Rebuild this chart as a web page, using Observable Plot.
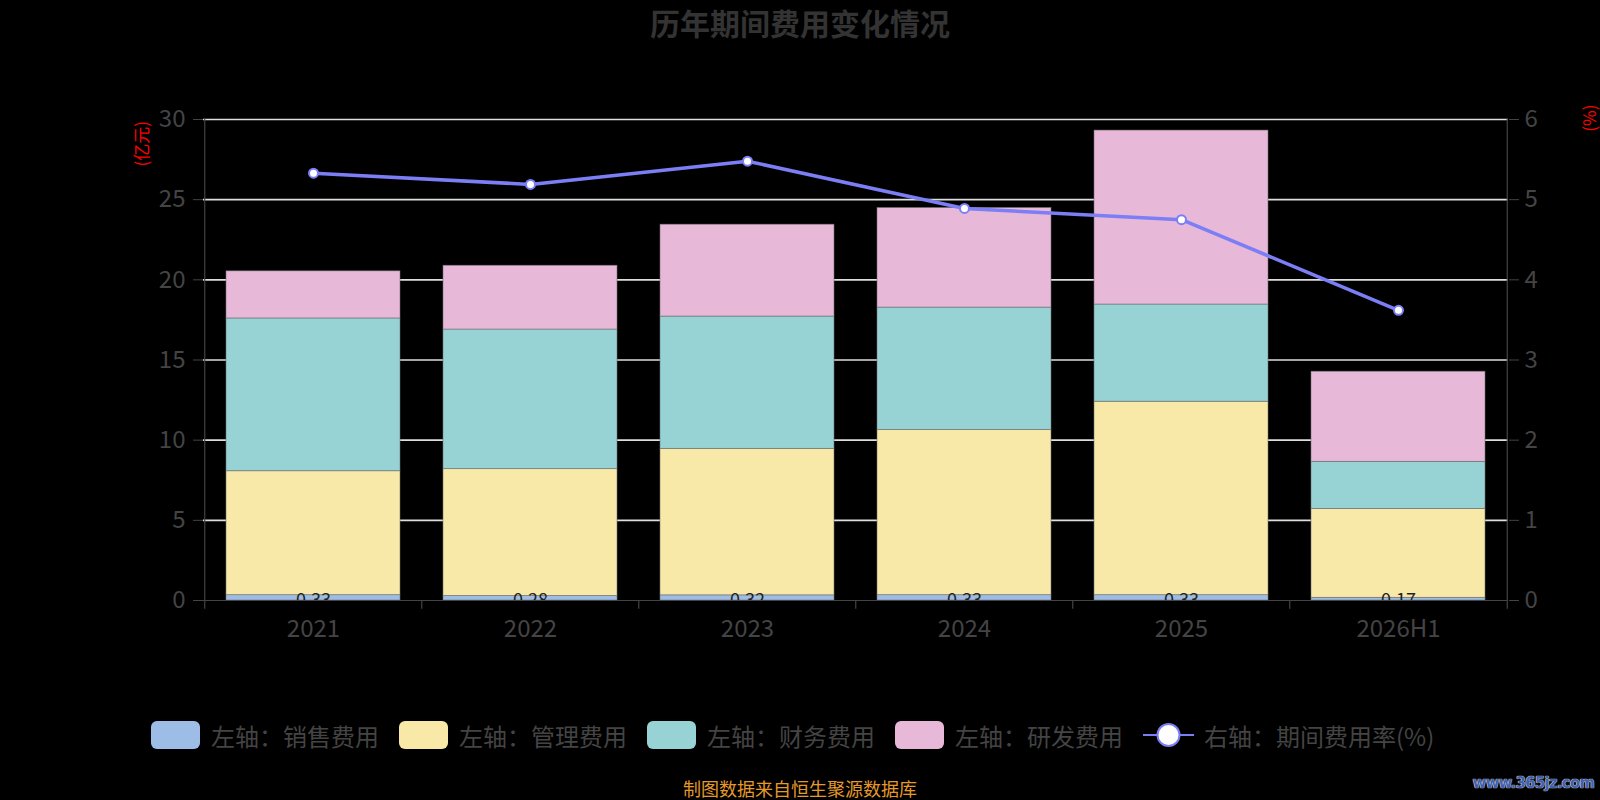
<!DOCTYPE html>
<html>
<head>
<meta charset="utf-8">
<script src="https://cdn.jsdelivr.net/npm/d3@7"></script>
<script src="https://cdn.jsdelivr.net/npm/@observablehq/plot@0.6"></script>
<style>
  html, body { margin: 0; padding: 0; background: #000; }
  #wrap { position: relative; width: 1600px; height: 800px; background: #000; overflow: hidden; font-family: "Noto Sans CJK SC", "Noto Sans", sans-serif; }
  #title { height: 50px; line-height: 44px; text-align: center; color: #333; font-weight: bold; font-size: 30px; }
  #chart { height: 650px; }
  .leg { position: absolute; top: 721px; height: 28px; display: flex; align-items: center; color: #444; font-size: 24px; white-space: nowrap; }
  .sw { width: 49px; height: 28px; border-radius: 6px; margin-right: 11px; }
  #caption { position: absolute; left: 0; width: 1600px; top: 776px; text-align: center; color: #e39a2b; font-size: 18px; line-height: 24px; }
  #wm { position: absolute; right: 6px; top: 774px; color: #3e62b0; font-size: 15px; font-weight: bold; font-family: "DejaVu Sans", sans-serif; text-shadow: 0 0 1px #fff, 0 0 1px #fff; letter-spacing: -0.8px; }
</style>
</head>
<body>
<div id="wrap">
  <div id="title"></div>
  <div id="chart"></div>
  <div id="legend"></div>
  <div id="caption"></div>
  <div id="wm">www.365jz.com</div>
</div>
<script>
// ---- data ----
const titleText = "历年期间费用变化情况";
const captionText = "制图数据来自恒生聚源数据库";
const years = ["2021", "2022", "2023", "2024", "2025", "2026H1"];
const seriesNames = ["销售费用", "管理费用", "财务费用", "研发费用"];
const sales = [0.33, 0.28, 0.32, 0.33, 0.33, 0.17];
const admin = [7.73, 7.91, 9.14, 10.30, 12.07, 5.54];
const finance = [9.53, 8.71, 8.25, 7.64, 6.06, 2.94];
const rd = [2.94, 3.98, 5.73, 6.21, 10.85, 5.62];
const rate = [5.33, 5.19, 5.48, 4.89, 4.75, 3.62];
const salesLabels = ["0.33", "0.28", "0.32", "0.33", "0.33", "0.17"];
const leftTicks = [0, 5, 10, 15, 20, 25, 30];
const rightTicks = [0, 1, 2, 3, 4, 5, 6];
const leftUnit = "(亿元)";
const rightUnit = "(%)";
const legendLabels = ["左轴：销售费用", "左轴：管理费用", "左轴：财务费用", "左轴：研发费用", "右轴：期间费用率(%)"];

const colors = ["#9dbde6", "#f9e9a9", "#97d3d4", "#e8b8d8"];
const lineColor = "#7b7ef5";
const rightFactor = 30 / 6;

const seriesValues = [sales, admin, finance, rd];
const stacked = [];
years.forEach((y, i) => {
  seriesNames.forEach((s, k) => stacked.push({ year: y, series: s, value: seriesValues[k][i] }));
});
const rateData = years.map((y, i) => ({ year: y, rate: rate[i] }));
const salesData = years.map((y, i) => ({ year: y, v: sales[i], label: salesLabels[i] }));

const W = 1600, H = 650;
const mL = 203, mR = 92, mT = 69, mB = 100;
const step = (W - mL - mR) / years.length;
const axisColor = "#444";
const tickFont = "'Liberation Sans Narrow', 'Noto Sans CJK SC', sans-serif";

document.getElementById("title").textContent = titleText;
document.getElementById("caption").textContent = captionText;

const chart = Plot.plot({
  width: W,
  height: H,
  marginLeft: mL,
  marginRight: mR,
  marginTop: mT,
  marginBottom: mB,
  style: { background: "#000", fontFamily: tickFont, overflow: "visible" },
  x: { domain: years, paddingInner: 0.2, paddingOuter: 0.1, label: null },
  y: { domain: [0, 30], label: null },
  color: { domain: seriesNames, range: colors },
  marks: [
    Plot.ruleY(leftTicks.filter(d => d > 0), { stroke: "#dedede", strokeWidth: 1.6 }),
    Plot.barY(stacked, { x: "year", y: "value", fill: "series", stroke: "#6f6f6f", strokeWidth: 0.7, strokeOpacity: 0.8 }),
    Plot.text(salesData, { x: "year", y: 0, text: "label", clip: true, fill: "#222", fontSize: 18, lineAnchor: "middle", fontFamily: tickFont }),
    Plot.ruleY([0], { stroke: axisColor, strokeWidth: 1.2 }),
    Plot.ruleX([years[0]], { dx: -step / 2, y1: -0.55, y2: 30, stroke: axisColor, strokeWidth: 1.2 }),
    Plot.ruleX([years[years.length - 1]], { dx: step / 2, y1: -0.55, y2: 30, stroke: axisColor, strokeWidth: 1.2 }),
    Plot.ruleX(years.slice(1), { dx: -step / 2, y1: -0.55, y2: 0, stroke: axisColor, strokeWidth: 1.2 }),
    Plot.axisY({ anchor: "left", ticks: leftTicks, tickSize: 10, tickPadding: 8, stroke: axisColor, fill: "#444", fontSize: 24, label: null }),
    Plot.axisY({ anchor: "right", ticks: rightTicks.map(d => d * rightFactor), tickFormat: d => String(d / rightFactor), tickSize: 10, tickPadding: 6, stroke: axisColor, fill: "#444", fontSize: 24, label: null }),
    Plot.axisX({ tickSize: 0, tickPadding: 19, fill: "#444", fontSize: 24, label: null }),
    Plot.line(rateData, { x: "year", y: d => d.rate * rightFactor, stroke: lineColor, strokeWidth: 3.5 }),
    Plot.dot(rateData, { x: "year", y: d => d.rate * rightFactor, r: 4.5, fill: "#fff", stroke: lineColor, strokeWidth: 2 }),
    Plot.text([leftUnit], { frameAnchor: "top-left", dx: -68, dy: 47, rotate: -90, fill: "#ff0000", fontSize: 17, fontFamily: "'Noto Sans CJK SC', sans-serif" }),
    Plot.text([rightUnit], { frameAnchor: "top-right", dx: 75, dy: -15, rotate: -90, fill: "#ff0000", fontSize: 17, fontFamily: "'Noto Sans CJK SC', sans-serif" })
  ]
});
document.getElementById("chart").appendChild(chart);

// ---- legend ----
const legend = document.getElementById("legend");
const legendLefts = [151, 399, 647, 895, 1143];
legendLabels.forEach((lab, i) => {
  const item = document.createElement("div");
  item.className = "leg";
  item.style.left = legendLefts[i] + "px";
  if (i < 4) {
    const sw = document.createElement("div");
    sw.className = "sw";
    sw.style.background = colors[i];
    item.appendChild(sw);
  } else {
    const ns = "http://www.w3.org/2000/svg";
    const s = document.createElementNS(ns, "svg");
    s.setAttribute("width", "51"); s.setAttribute("height", "28");
    s.style.marginRight = "10px";
    const l = document.createElementNS(ns, "line");
    l.setAttribute("x1", "0"); l.setAttribute("x2", "51"); l.setAttribute("y1", "14"); l.setAttribute("y2", "14");
    l.setAttribute("stroke", lineColor); l.setAttribute("stroke-width", "2");
    const c = document.createElementNS(ns, "circle");
    c.setAttribute("cx", "25.5"); c.setAttribute("cy", "14"); c.setAttribute("r", "11");
    c.setAttribute("fill", "#fff"); c.setAttribute("stroke", lineColor); c.setAttribute("stroke-width", "2");
    s.appendChild(l); s.appendChild(c);
    item.appendChild(s);
  }
  const t = document.createElement("span");
  t.textContent = lab;
  item.appendChild(t);
  legend.appendChild(item);
});
</script>
</body>
</html>
